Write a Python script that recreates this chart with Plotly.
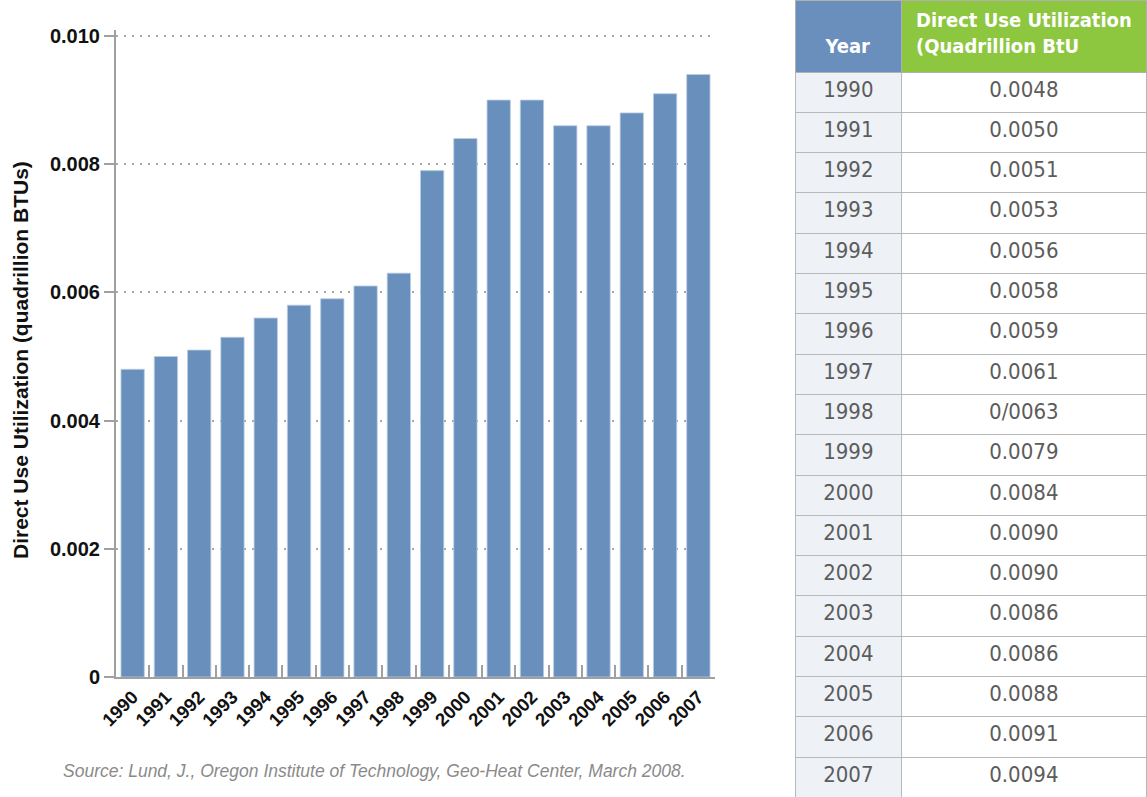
import plotly.graph_objects as go

years = ["1990", "1991", "1992", "1993", "1994", "1995", "1996", "1997", "1998",
         "1999", "2000", "2001", "2002", "2003", "2004", "2005", "2006", "2007"]
values = [0.0048, 0.0050, 0.0051, 0.0053, 0.0056, 0.0058, 0.0059, 0.0061, 0.0063,
          0.0079, 0.0084, 0.0090, 0.0090, 0.0086, 0.0086, 0.0088, 0.0091, 0.0094]
table_labels = ["0.0048", "0.0050", "0.0051", "0.0053", "0.0056", "0.0058", "0.0059",
                "0.0061", "0/0063", "0.0079", "0.0084", "0.0090", "0.0090", "0.0086",
                "0.0086", "0.0088", "0.0091", "0.0094"]
y_tickvals = [0, 0.002, 0.004, 0.006, 0.008, 0.010]
y_ticktext = ["0", "0.002", "0.004", "0.006", "0.008", "0.010"]
table_header = ["Year", "Direct Use Utilization<br>(Quadrillion BtU"]

W, H = 1147, 797
BAR_COLOR = "#6990bd"
AXIS_GREY = "#a0a0a0"
COND = "DejaVu Sans Condensed, Liberation Sans Narrow, sans-serif"

Y_MAX = 0.0101
PX_PER_UNIT = (677 - 36) / 0.010
top_px = 677 - Y_MAX * PX_PER_UNIT

fig = go.Figure()

fig.add_trace(go.Bar(
    x=years, y=values,
    marker=dict(color=BAR_COLOR, line=dict(color="#b9cbe2", width=0.8)),
    hoverinfo="x+y",
))

header_text = ["\u00a0<br>" + table_header[0], table_header[1]]

fig.add_trace(go.Table(
    domain=dict(x=[795 / W, 1.0], y=[0.0, 1.0]),
    columnwidth=[107, 245],
    header=dict(
        values=header_text,
        fill_color=[["#6a8fbd"], ["#8dc63f"]],
        font=dict(family=COND, size=20, color="white", weight="bold"),
        align="center",
        height=72,
        line=dict(color="#b0b0b0", width=1),
    ),
    cells=dict(
        values=[years, table_labels],
        fill_color=[["#eef2f7"] * len(years), ["#ffffff"] * len(years)],
        font=dict(family=COND, size=22, color="#5c5c5c"),
        align="center",
        height=40.3,
        line=dict(color="#b8b8b8", width=1),
    ),
))

fig.update_layout(
    width=W, height=H,
    margin=dict(l=0, r=0, t=0, b=0, autoexpand=False),
    paper_bgcolor="white",
    plot_bgcolor="white",
    showlegend=False,
    bargap=0.3,
    font=dict(family="Liberation Sans, Arial, sans-serif", color="#222"),
    xaxis=dict(
        domain=[116 / W, 715 / W],
        type="category",
        automargin=False,
        showline=True, linecolor=AXIS_GREY, linewidth=2,
        ticks="inside", tickson="boundaries", ticklen=12, tickcolor=AXIS_GREY, tickwidth=2,
        tickangle=-45,
        tickfont=dict(family="Liberation Sans, Arial, sans-serif", size=18.5,
                      color="#111", weight="bold"),
        showgrid=False,
        fixedrange=True,
    ),
    yaxis=dict(
        domain=[(H - 677) / H, (H - top_px) / H],
        range=[0, Y_MAX],
        automargin=False,
        tickvals=y_tickvals, ticktext=y_ticktext,
        showline=True, linecolor=AXIS_GREY, linewidth=2,
        ticks="outside", ticklen=10, tickcolor=AXIS_GREY, tickwidth=2,
        tickfont=dict(family="Liberation Sans, Arial, sans-serif", size=20,
                      color="#111", weight="bold"),
        showgrid=True, gridcolor="#a8a8a8", gridwidth=2, griddash="2px,6px",
        zeroline=False,
        fixedrange=True,
    ),
    annotations=[
        dict(
            text="Direct Use Utilization (quadrillion BTUs)",
            xref="paper", yref="paper",
            x=20 / W, y=(H - 360) / H,
            xanchor="center", yanchor="middle",
            textangle=-90, showarrow=False,
            font=dict(family="Liberation Sans, Arial, sans-serif", size=21,
                      color="#111", weight="bold"),
        ),
        dict(
            text="Source: Lund, J., Oregon Institute of Technology, Geo-Heat Center, March 2008.",
            xref="paper", yref="paper",
            x=688 / W, y=(H - 771) / H,
            xanchor="right", yanchor="middle",
            showarrow=False,
            font=dict(family="Liberation Sans, Arial, sans-serif", size=17.5,
                      color="#8a8a8a", style="italic"),
        ),
    ],
)

fig.write_html(
    "out.html",
    config={"displayModeBar": False},
    post_script="document.body.style.margin='0';document.body.style.overflow='hidden';",
)
